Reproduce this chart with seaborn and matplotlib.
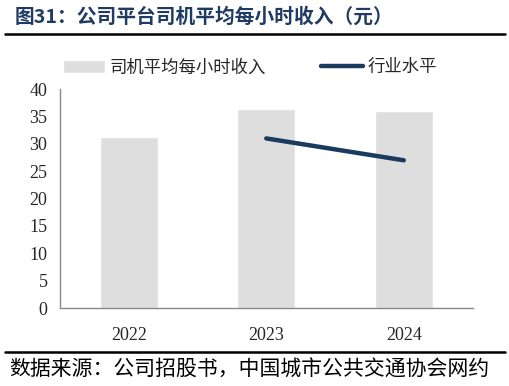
import numpy as np
import pandas as pd
import matplotlib
matplotlib.use("Agg")
import matplotlib.pyplot as plt
import seaborn as sns

# 数据
years = ["2022", "2023", "2024"]
driver_income = [31.2, 36.4, 36.0]
industry_level = [np.nan, 31.0, 27.0]

sns.set_style("white")
plt.rcParams['font.family'] = ['Liberation Serif', 'Noto Sans CJK SC']

df = pd.DataFrame({"year": years, "司机平均每小时收入": driver_income, "行业水平": industry_level})
df["pos"] = np.arange(len(years))

fig = plt.figure(figsize=(5.1, 3.86), dpi=100)
ax = fig.add_axes([0.1176, 0.202, 0.809, 0.567])

sns.barplot(data=df, x="pos", y="司机平均每小时收入", color="#DEDEDE", width=0.42,
            saturation=1, ax=ax, label="司机平均每小时收入")
sns.lineplot(data=df.dropna(), x="pos", y="行业水平", color="#1B3A5F", linewidth=3.2,
             solid_capstyle="round", ax=ax, label="行业水平")

ax.set_xlim(-0.5, 2.5)
ax.set_ylim(0, 40)
ax.set_yticks(range(0, 41, 5))
ax.set_xticks(df["pos"])
ax.set_xticklabels(years)
ax.set_xticks([0.5, 1.5, 2.5], minor=True)
ax.tick_params(axis="x", which="major", length=0, labelsize=13, pad=14)
ax.tick_params(axis="x", which="minor", length=5, width=1, color="#888888", direction="out")
ax.tick_params(axis="y", length=5, width=1, color="#888888", direction="out", labelsize=13, pad=4)
ax.set_xlabel("")
ax.set_ylabel("")
for s in ["top", "right"]:
    ax.spines[s].set_visible(False)
for s in ["left", "bottom"]:
    ax.spines[s].set_color("#888888")
    ax.spines[s].set_linewidth(1)

handles, labels = ax.get_legend_handles_labels()
order = [labels.index("司机平均每小时收入"), labels.index("行业水平")]
ax.legend([handles[i] for i in order], [labels[i] for i in order],
          loc="center left", bbox_to_anchor=(0.0, 1.1), ncol=2, frameon=False,
          prop={"family": "Noto Sans CJK SC", "size": 12.5}, handlelength=2.4,
          handleheight=0.75, columnspacing=3.2, handletextpad=0.25, borderaxespad=0,
          borderpad=0.2)

# 标题与来源
fig.text(0.028, 0.955, "图31：公司平台司机平均每小时收入（元）", fontsize=14.2, fontweight="bold",
         color="#1F3B63", family=["Noto Sans CJK SC"], va="center")
fig.add_artist(plt.Line2D([0.01, 0.99], [0.913, 0.913], color="black", linewidth=1.8))
fig.add_artist(plt.Line2D([0.01, 0.99], [0.088, 0.088], color="black", linewidth=1.8))
fig.text(0.018, 0.042, "数据来源：公司招股书，中国城市公共交通协会网约", fontsize=15,
         color="black", family=["Noto Sans CJK SC"], va="center")

fig.savefig("out.png", dpi=100)
